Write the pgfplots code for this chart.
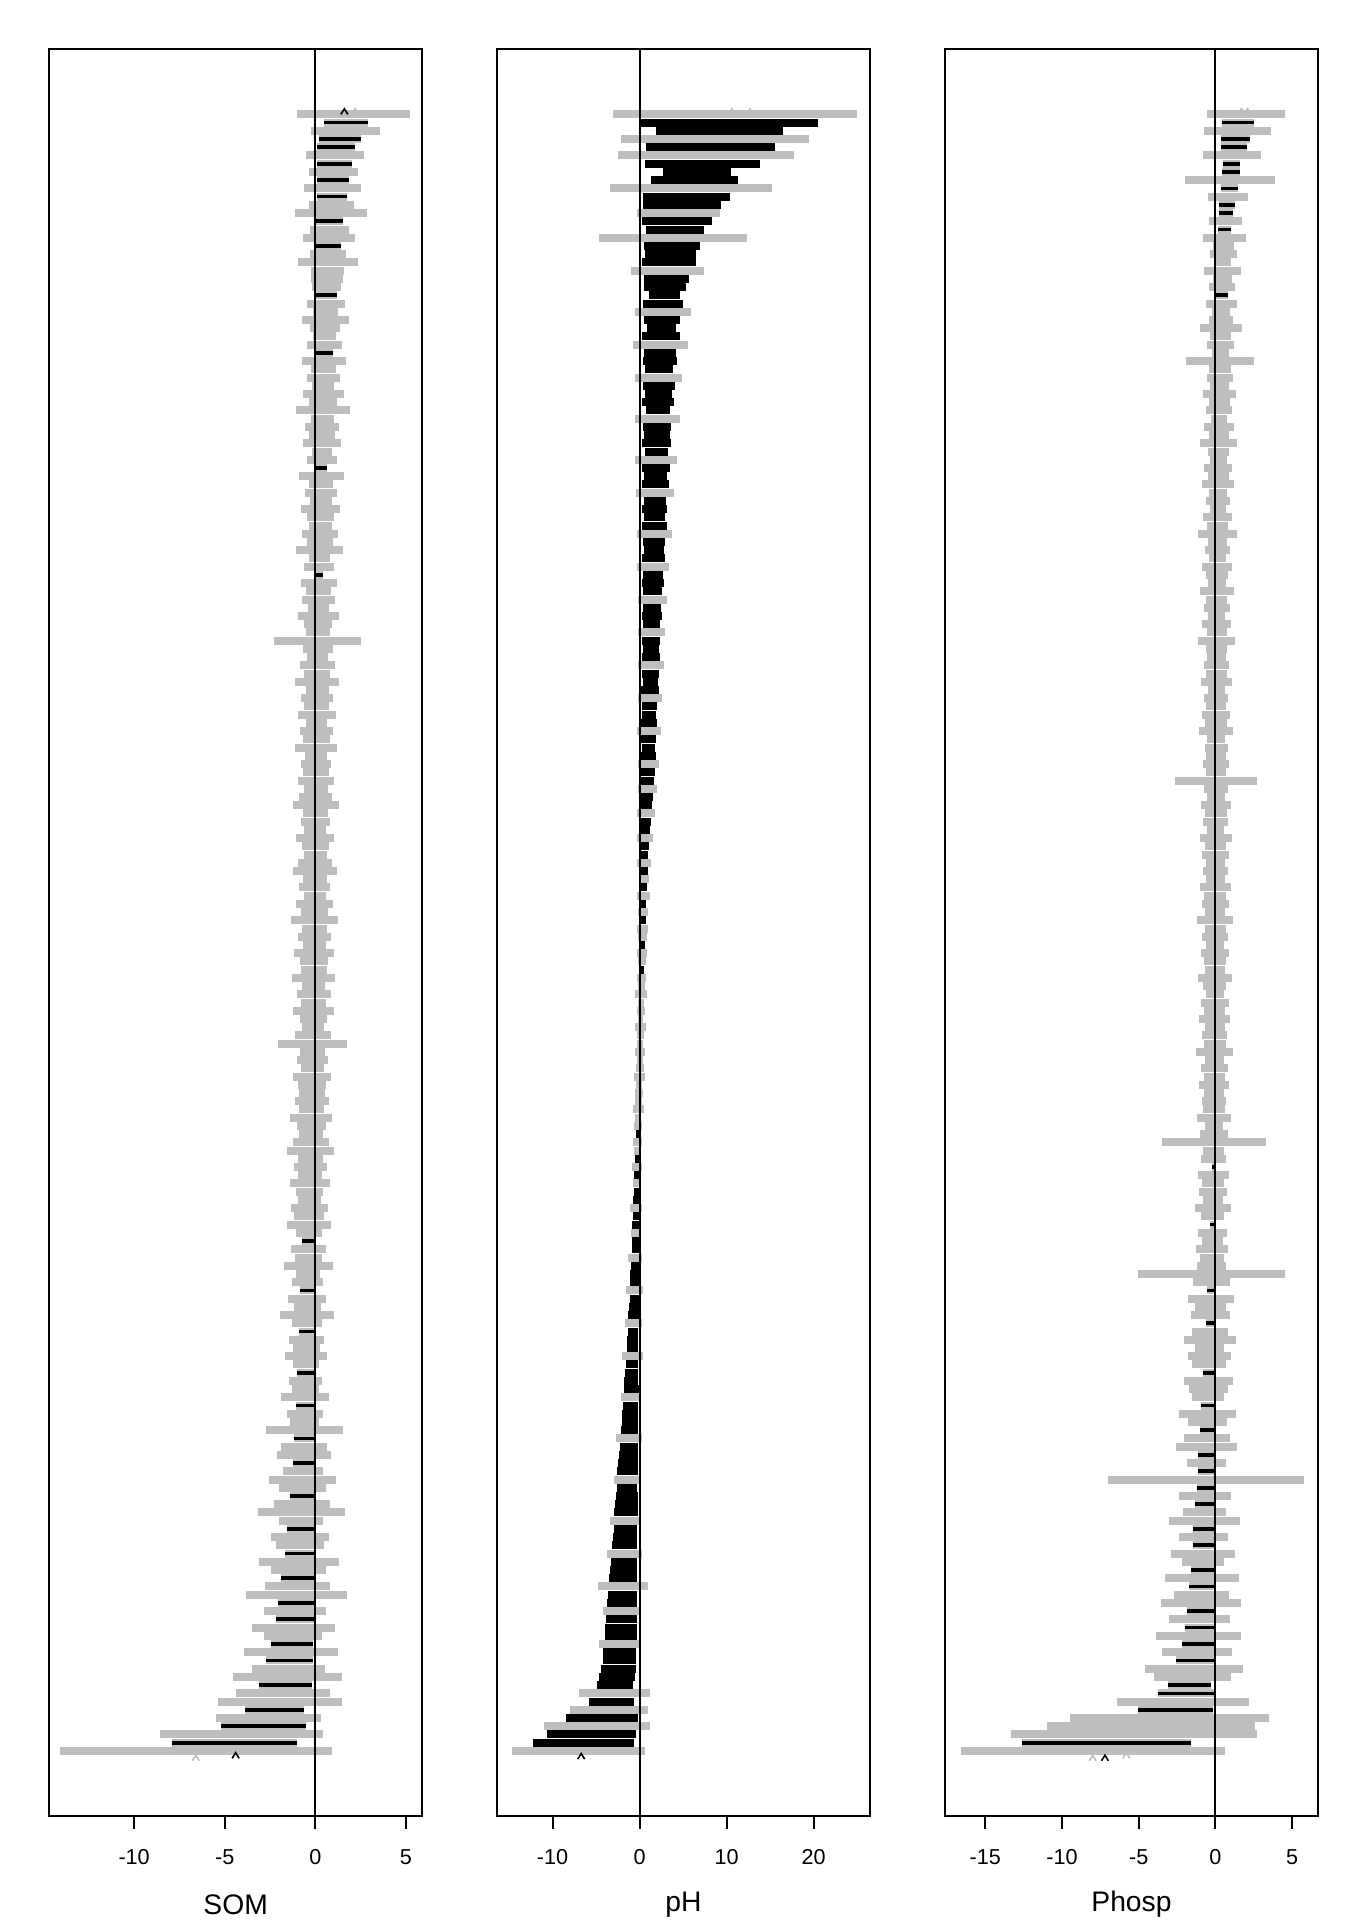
\documentclass[border=0pt]{standalone}
\usepackage{pgfplots}
\pgfplotsset{compat=1.18}
\usepackage{pgfplotstable}
\usepackage{fontspec}
\setmainfont{Liberation Sans}
\definecolor{rgrey}{HTML}{BEBEBE}
\pgfdeclareplotmark{chev}{%
  \pgfpathmoveto{\pgfqpoint{-\pgfplotmarksize}{-0.7\pgfplotmarksize}}%
  \pgfpathlineto{\pgfqpoint{0pt}{0.9\pgfplotmarksize}}%
  \pgfpathlineto{\pgfqpoint{\pgfplotmarksize}{-0.7\pgfplotmarksize}}%
  \pgfusepathqstroke}

% SOM: centre (c) and half-width (w) of each interval, sorted top to bottom
\pgfplotstableread[row sep=\\]{
c w\\
2.10 3.10\\ 1.70 1.20\\ 1.65 1.90\\ 1.35 1.15\\ 1.15 1.05\\ 1.10 1.60\\ 1.05 0.95\\ 1.00 1.35\\ 0.97 0.90\\ 0.95 1.55\\
0.92 0.85\\ 0.88 1.25\\ 0.85 2.00\\ 0.80 0.75\\ 0.78 1.10\\ 0.75 1.45\\ 0.72 0.68\\ 0.70 1.00\\ 0.68 1.65\\ 0.66 0.90\\
0.64 0.90\\ 0.62 0.79\\ 0.60 0.58\\ 0.58 1.05\\ 0.56 0.71\\ 0.55 1.31\\ 0.53 0.83\\ 0.52 0.64\\ 0.50 0.98\\ 0.49 0.48\\
0.48 1.20\\ 0.46 0.68\\ 0.45 0.90\\ 0.44 0.60\\ 0.43 1.13\\ 0.42 0.75\\ 0.41 1.50\\ 0.40 0.64\\ 0.39 0.94\\ 0.38 0.71\\
0.37 1.05\\ 0.36 0.56\\ 0.35 0.83\\ 0.34 0.32\\ 0.33 1.24\\ 0.32 0.68\\ 0.31 0.90\\ 0.30 0.60\\ 0.29 1.09\\ 0.28 0.75\\
0.27 0.64\\ 0.26 0.98\\ 0.25 0.71\\ 0.24 1.31\\ 0.23 0.60\\ 0.22 0.83\\ 0.21 0.20\\ 0.20 1.01\\ 0.19 0.68\\ 0.18 0.90\\
0.17 0.56\\ 0.16 1.13\\ 0.15 0.75\\ 0.15 0.64\\ 0.14 2.40\\ 0.13 0.83\\ 0.12 0.60\\ 0.12 0.98\\ 0.11 0.71\\ 0.10 1.20\\
0.10 0.64\\ 0.09 0.86\\ 0.08 0.68\\ 0.08 1.05\\ 0.07 0.56\\ 0.06 0.90\\ 0.06 0.75\\ 0.05 1.16\\ 0.05 0.60\\ 0.04 0.83\\
0.04 0.71\\ 0.03 1.01\\ 0.03 0.64\\ 0.02 0.90\\ 0.02 1.28\\ 0.01 0.68\\ 0.01 0.79\\ 0.00 0.60\\ 0.00 1.05\\ -0.01 0.75\\
-0.01 0.64\\ -0.02 0.94\\ -0.02 1.20\\ -0.03 0.68\\ -0.03 0.86\\ -0.04 0.60\\ -0.04 1.01\\ -0.05 0.75\\ -0.05 1.31\\ -0.06 0.68\\
-0.06 0.90\\ -0.07 0.64\\ -0.07 1.09\\ -0.08 0.79\\ -0.08 0.71\\ -0.09 1.20\\ -0.10 0.64\\ -0.10 0.94\\ -0.11 0.71\\ -0.12 1.13\\
-0.12 0.75\\ -0.13 0.60\\ -0.14 1.01\\ -0.15 1.90\\ -0.15 0.68\\ -0.16 0.86\\ -0.17 0.64\\ -0.18 1.05\\ -0.19 0.75\\ -0.20 0.71\\
-0.20 0.94\\ -0.21 0.68\\ -0.22 1.16\\ -0.23 0.79\\ -0.24 0.64\\ -0.25 0.98\\ -0.26 1.28\\ -0.27 0.71\\ -0.28 0.90\\ -0.29 0.68\\
-0.30 1.09\\ -0.31 0.75\\ -0.32 0.64\\ -0.33 1.01\\ -0.34 0.83\\ -0.35 1.20\\ -0.36 0.71\\ -0.37 0.35\\ -0.38 0.94\\ -0.39 0.75\\
-0.40 1.35\\ -0.41 0.68\\ -0.42 0.86\\ -0.43 0.40\\ -0.44 1.05\\ -0.45 0.75\\ -0.46 1.50\\ -0.47 0.83\\ -0.48 0.45\\ -0.49 0.98\\
-0.50 0.75\\ -0.51 1.16\\ -0.52 0.71\\ -0.53 0.50\\ -0.54 0.90\\ -0.55 0.75\\ -0.56 1.31\\ -0.57 0.52\\ -0.58 1.01\\ -0.59 0.79\\
-0.60 2.10\\ -0.61 0.55\\ -0.62 1.25\\ -0.63 1.50\\ -0.65 0.60\\ -0.67 1.10\\ -0.69 1.85\\ -0.71 1.30\\ -0.73 0.68\\ -0.75 1.55\\
-0.77 2.40\\ -0.79 1.20\\ -0.81 0.75\\ -0.83 1.60\\ -0.85 1.35\\ -0.88 0.80\\ -0.91 2.20\\ -0.94 1.50\\ -0.97 0.90\\ -1.00 1.80\\
-1.03 2.80\\ -1.07 1.00\\ -1.11 1.70\\ -1.15 1.05\\ -1.20 2.30\\ -1.25 1.60\\ -1.30 1.15\\ -1.36 2.60\\ -1.42 1.30\\ -1.48 2.00\\
-1.55 3.00\\ -1.65 1.45\\ -1.80 2.60\\ -1.95 3.40\\ -2.25 1.65\\ -2.60 2.90\\ -2.85 2.35\\ -4.10 4.50\\ -4.45 3.45\\ -6.60 7.50\\
}\somtab

% pH
\pgfplotstableread[row sep=\\]{
c w\\
11.00 14.00\\ 10.35 10.15\\ 9.20 7.30\\ 8.70 10.80\\ 8.20 7.40\\ 7.60 10.10\\ 7.20 6.60\\ 6.60 3.90\\ 6.30 5.00\\ 5.90 9.30\\
5.40 5.00\\ 4.90 4.50\\ 4.50 4.80\\ 4.30 4.00\\ 4.10 3.30\\ 3.90 8.50\\ 3.70 3.20\\ 3.55 2.90\\ 3.40 3.10\\ 3.25 4.20\\
3.10 2.60\\ 2.95 2.40\\ 2.85 1.75\\ 2.75 2.30\\ 2.68 3.20\\ 2.60 2.10\\ 2.52 1.70\\ 2.45 2.15\\ 2.40 3.20\\ 2.34 1.80\\
2.30 1.95\\ 2.27 1.60\\ 2.23 2.70\\ 2.20 1.85\\ 2.16 1.55\\ 2.13 1.80\\ 2.09 1.40\\ 2.06 2.60\\ 2.02 1.65\\ 1.99 1.50\\
1.95 1.70\\ 1.93 1.35\\ 1.90 2.40\\ 1.88 1.60\\ 1.85 1.30\\ 1.83 1.50\\ 1.80 2.20\\ 1.78 1.30\\ 1.75 1.45\\ 1.73 1.20\\
1.70 1.45\\ 1.68 2.00\\ 1.65 1.30\\ 1.63 1.15\\ 1.60 1.35\\ 1.58 1.85\\ 1.55 1.10\\ 1.53 1.25\\ 1.50 1.05\\ 1.48 1.70\\
1.45 1.05\\ 1.43 1.15\\ 1.40 0.95\\ 1.38 1.60\\ 1.35 1.05\\ 1.33 0.90\\ 1.30 1.05\\ 1.28 1.50\\ 1.25 0.95\\ 1.23 0.85\\
1.20 1.00\\ 1.18 1.40\\ 1.15 0.90\\ 1.13 0.80\\ 1.10 0.95\\ 1.08 1.35\\ 1.05 0.85\\ 1.03 0.75\\ 1.00 0.90\\ 0.98 1.20\\
0.95 0.80\\ 0.91 0.70\\ 0.87 1.10\\ 0.83 0.72\\ 0.79 0.62\\ 0.75 1.00\\ 0.72 0.65\\ 0.68 0.55\\ 0.64 0.90\\ 0.60 0.50\\
0.55 0.40\\ 0.53 0.80\\ 0.51 0.45\\ 0.49 0.60\\ 0.47 0.38\\ 0.45 0.70\\ 0.43 0.35\\ 0.41 0.55\\ 0.39 0.30\\ 0.37 0.65\\
0.35 0.50\\ 0.33 0.28\\ 0.31 0.60\\ 0.29 0.45\\ 0.27 0.22\\ 0.25 0.55\\ 0.23 0.40\\ 0.21 0.70\\ 0.19 0.35\\ 0.17 0.50\\
0.15 0.30\\ 0.13 0.60\\ 0.11 0.40\\ 0.09 0.35\\ 0.07 0.55\\ 0.05 0.30\\ 0.03 0.45\\ 0.01 0.60\\ -0.02 0.35\\ -0.05 0.50\\
-0.08 0.40\\ -0.11 0.65\\ -0.14 0.35\\ -0.17 0.45\\ -0.20 0.18\\ -0.22 0.55\\ -0.25 0.40\\ -0.28 0.25\\ -0.30 0.60\\ -0.32 0.28\\
-0.34 0.45\\ -0.36 0.30\\ -0.38 0.33\\ -0.40 0.70\\ -0.42 0.35\\ -0.44 0.38\\ -0.46 0.55\\ -0.48 0.40\\ -0.50 0.42\\ -0.52 0.80\\
-0.54 0.45\\ -0.56 0.48\\ -0.58 0.50\\ -0.60 0.95\\ -0.63 0.52\\ -0.66 0.55\\ -0.69 0.60\\ -0.72 0.95\\ -0.75 0.62\\ -0.78 0.65\\
-0.81 0.68\\ -0.84 1.20\\ -0.87 0.72\\ -0.90 0.75\\ -0.93 0.80\\ -0.96 0.85\\ -1.00 1.10\\ -1.04 0.85\\ -1.08 0.90\\ -1.12 0.95\\
-1.16 1.00\\ -1.20 1.45\\ -1.24 1.05\\ -1.28 1.10\\ -1.32 1.15\\ -1.36 1.20\\ -1.40 1.50\\ -1.44 1.20\\ -1.48 1.25\\ -1.52 1.30\\
-1.56 1.35\\ -1.60 1.80\\ -1.64 1.35\\ -1.68 1.40\\ -1.72 1.45\\ -1.76 2.00\\ -1.80 1.50\\ -1.84 1.55\\ -1.88 1.60\\ -1.92 2.90\\
-1.96 1.65\\ -2.00 1.70\\ -2.04 2.20\\ -2.08 1.75\\ -2.12 1.80\\ -2.16 1.85\\ -2.20 2.40\\ -2.25 1.90\\ -2.30 1.95\\ -2.40 2.00\\
-2.55 2.05\\ -2.85 2.05\\ -2.90 4.10\\ -3.20 2.60\\ -3.50 4.50\\ -4.30 4.10\\ -4.90 6.10\\ -5.50 5.10\\ -6.40 5.80\\ -7.00 7.60\\
}\phtab

% Phosp
\pgfplotstableread[row sep=\\]{
c w\\
2.00 2.55\\ 1.50 1.05\\ 1.45 2.20\\ 1.30 0.95\\ 1.20 0.85\\ 1.10 1.90\\ 1.05 0.55\\ 1.00 0.60\\ 0.95 2.95\\ 0.90 0.55\\
0.82 1.30\\ 0.75 0.50\\ 0.70 0.48\\ 0.66 1.10\\ 0.62 0.42\\ 0.58 1.40\\ 0.55 0.68\\ 0.52 0.90\\ 0.50 0.53\\ 0.48 1.20\\
0.46 0.64\\ 0.44 0.83\\ 0.42 0.38\\ 0.40 1.01\\ 0.38 0.60\\ 0.37 0.79\\ 0.36 1.35\\ 0.35 0.68\\ 0.34 0.90\\ 0.32 0.56\\
0.31 2.20\\ 0.30 0.71\\ 0.29 0.86\\ 0.28 0.60\\ 0.27 1.09\\ 0.26 0.68\\ 0.25 0.83\\ 0.24 0.53\\ 0.23 0.98\\ 0.22 0.64\\
0.21 1.20\\ 0.20 0.71\\ 0.19 0.56\\ 0.19 0.90\\ 0.18 0.68\\ 0.17 1.05\\ 0.17 0.60\\ 0.16 0.79\\ 0.15 0.53\\ 0.15 0.94\\
0.14 0.68\\ 0.14 1.28\\ 0.13 0.64\\ 0.13 0.83\\ 0.12 0.56\\ 0.12 0.98\\ 0.11 0.71\\ 0.11 0.60\\ 0.10 1.09\\ 0.10 0.68\\
0.10 0.86\\ 0.09 0.56\\ 0.09 0.94\\ 0.09 0.64\\ 0.08 1.20\\ 0.08 0.71\\ 0.08 0.60\\ 0.07 0.83\\ 0.07 0.68\\ 0.07 1.01\\
0.06 0.56\\ 0.06 0.79\\ 0.06 0.64\\ 0.06 0.90\\ 0.05 0.71\\ 0.05 1.13\\ 0.05 0.60\\ 0.05 0.75\\ 0.04 0.64\\ 0.04 0.86\\
0.04 0.68\\ 0.04 2.65\\ 0.03 0.79\\ 0.03 0.60\\ 0.03 0.98\\ 0.02 0.71\\ 0.02 0.83\\ 0.02 0.56\\ 0.02 1.05\\ 0.01 0.68\\
0.01 0.90\\ 0.01 0.64\\ 0.01 0.79\\ 0.00 0.60\\ 0.00 1.01\\ 0.00 0.71\\ 0.00 0.86\\ -0.01 0.64\\ -0.01 1.16\\ -0.01 0.68\\
-0.01 0.83\\ -0.02 0.56\\ -0.02 0.94\\ -0.02 0.71\\ -0.02 0.64\\ -0.03 1.09\\ -0.03 0.75\\ -0.03 0.60\\ -0.03 0.90\\ -0.04 0.68\\
-0.04 1.01\\ -0.04 0.64\\ -0.05 0.79\\ -0.05 0.71\\ -0.05 1.20\\ -0.06 0.60\\ -0.06 0.86\\ -0.07 0.68\\ -0.07 0.98\\ -0.08 0.64\\
-0.08 0.79\\ -0.09 0.71\\ -0.09 1.13\\ -0.10 0.60\\ -0.10 0.90\\ -0.11 3.40\\ -0.11 0.68\\ -0.12 0.83\\ -0.12 0.11\\ -0.13 1.01\\
-0.14 0.71\\ -0.14 0.90\\ -0.15 0.64\\ -0.16 1.16\\ -0.17 0.75\\ -0.18 0.16\\ -0.19 0.94\\ -0.20 0.68\\ -0.21 1.05\\ -0.22 0.79\\
-0.23 0.95\\ -0.25 4.80\\ -0.26 1.20\\ -0.27 0.25\\ -0.29 1.50\\ -0.30 1.00\\ -0.32 1.30\\ -0.33 0.30\\ -0.35 1.15\\ -0.36 1.70\\
-0.38 0.95\\ -0.39 1.40\\ -0.41 1.10\\ -0.42 0.40\\ -0.44 1.60\\ -0.45 1.25\\ -0.47 1.05\\ -0.48 0.45\\ -0.50 1.85\\ -0.51 1.30\\
-0.53 0.50\\ -0.54 1.50\\ -0.56 2.00\\ -0.57 0.54\\ -0.59 1.25\\ -0.60 0.55\\ -0.62 6.40\\ -0.63 0.58\\ -0.65 1.70\\ -0.67 0.65\\
-0.69 1.40\\ -0.71 2.30\\ -0.73 0.70\\ -0.75 1.60\\ -0.77 0.72\\ -0.79 2.10\\ -0.81 1.35\\ -0.83 0.78\\ -0.86 2.40\\ -0.89 0.80\\
-0.92 1.80\\ -0.95 2.60\\ -0.98 0.90\\ -1.02 2.00\\ -1.06 0.95\\ -1.10 2.80\\ -1.15 1.05\\ -1.20 2.30\\ -1.30 1.25\\ -1.40 3.20\\
-1.50 2.50\\ -1.70 1.40\\ -1.90 1.85\\ -2.10 4.30\\ -2.60 2.45\\ -3.00 6.50\\ -4.20 6.80\\ -5.30 8.00\\ -7.10 5.50\\ -8.00 8.60\\
}\phosptab

\pgfplotsset{
  cat/.style={scale only axis, width=140pt, height=662.8pt, anchor=south west,
    ymin=-206.96, ymax=7.96, ytick=\empty,
    xtick pos=left, xtick align=outside, major tick length=4.75pt,
    tick style={black, line width=0.75pt},
    axis line style={line width=0.75pt},
    tick label style={font=\fontsize{8.1}{9}\selectfont},
    xticklabel style={anchor=center, yshift=-10.6pt},
    label style={font=\fontsize{10.6}{12}\selectfont},
    xlabel style={at={(axis description cs:0.5,0)}, anchor=center, yshift=-33.1pt}},
  gbar/.style={draw=none, forget plot, error bars/.cd, x dir=both, x explicit,
    error mark=none, error bar style={draw=rgrey, line width=3.0pt}},
  bbar/.style={draw=none, forget plot,
    restrict expr to domain={abs(\thisrow{c})-\thisrow{w}}{0.00001:1000},
    error bars/.cd, x dir=both, x explicit,
    error mark=none, error bar style={draw=black, line width=#1}},
  gpt/.style={only marks, forget plot, mark=chev, mark size=1.3pt, draw=rgrey, mark options={line width=0.6pt}},
  bpt/.style={only marks, forget plot, mark=chev, mark size=1.3pt, draw=black, mark options={line width=0.6pt}},
}

\begin{document}
\begin{tikzpicture}
\useasboundingbox (0,0) rectangle (504pt,720pt);

\begin{axis}[cat, at={(18.36pt,38.85pt)}, xmin=-14.7, xmax=5.9,
  xtick={-10,-5,0,5}, xticklabels={-10,-5,0,5}, xlabel={SOM}]
\addplot[gbar] table[x=c, y expr=-\coordindex, x error=w] {\somtab};
\addplot[bbar=1.4pt] table[x=c, y expr=-\coordindex, x error=w] {\somtab};
\addplot[black, line width=0.75pt, forget plot] coordinates {(0,-230) (0,30)};
\addplot[gpt] coordinates {(2.2,0.3) (-6.6,-199.9)};
\addplot[bpt] coordinates {(1.6,0.3) (-4.4,-199.6)};
\end{axis}

\begin{axis}[cat, at={(186.3pt,38.85pt)}, xmin=-16.4, xmax=26.5,
  xtick={-10,0,10,20}, xticklabels={-10,0,10,20}, xlabel={pH}]
\addplot[gbar] table[x=c, y expr=-\coordindex, x error=w] {\phtab};
\addplot[bbar=3.0pt] table[x=c, y expr=-\coordindex, x error=w] {\phtab};
\addplot[black, line width=0.75pt, forget plot] coordinates {(0,-230) (0,30)};
\addplot[gpt] coordinates {(10.6,0.3) (12.7,0.3)};
\addplot[bpt] coordinates {(-6.7,-199.7)};
\end{axis}

\begin{axis}[cat, at={(354.3pt,38.85pt)}, xmin=-17.64, xmax=6.7,
  xtick={-15,-10,-5,0,5}, xticklabels={-15,-10,-5,0,5}, xlabel={Phosp}]
\addplot[gpt] coordinates {(1.7,0.3) (2.1,0.3) (-8.0,-199.9) (-5.8,-199.6)};
\addplot[gbar] table[x=c, y expr=-\coordindex, x error=w] {\phosptab};
\addplot[bbar=1.4pt] table[x=c, y expr=-\coordindex, x error=w] {\phosptab};
\addplot[black, line width=0.75pt, forget plot] coordinates {(0,-230) (0,30)};
\addplot[bpt] coordinates {(-7.2,-199.9)};
\end{axis}
\end{tikzpicture}
\end{document}
